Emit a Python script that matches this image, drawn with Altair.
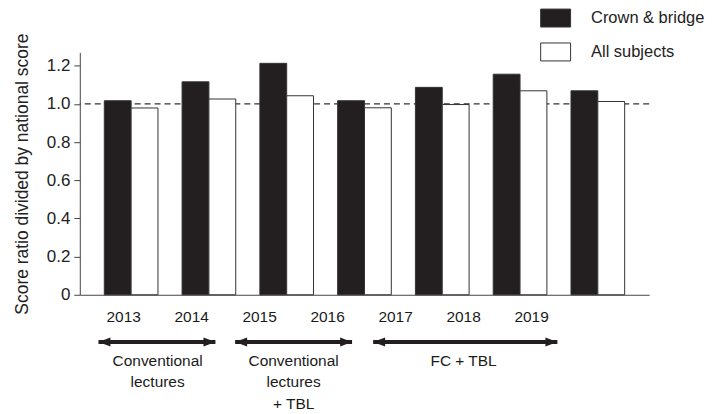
import altair as alt
import pandas as pd

FONT = "Liberation Sans"

# ---- data ----
years = ["2013", "2014", "2015", "2016", "2017", "2018", "2019"]
crown_bridge = [1.017, 1.116, 1.213, 1.017, 1.087, 1.156, 1.069]
all_subjects = [0.979, 1.026, 1.043, 0.980, 0.997, 1.069, 1.013]
series_names = ["Crown & bridge", "All subjects"]
series_colors = ["#231f20", "#ffffff"]
reference_level = [1.0]
y_ticks = [0, 0.2, 0.4, 0.6, 0.8, 1.0, 1.2]

# teaching-period annotations (in year units)
period_labels = ["Conventional\nlectures", "Conventional\nlectures\n+ TBL", "FC + TBL"]
period_start = [2012.63, 2014.64, 2016.67]
period_end = [2014.35, 2016.36, 2019.38]
period_center = [2013.5, 2015.5, 2018.0]

# ---- tables ----
rows = []
for i, y in enumerate(years):
    rows.append({"year": y, "series": series_names[0], "value": crown_bridge[i]})
    rows.append({"year": y, "series": series_names[1], "value": all_subjects[i]})
bar_df = pd.DataFrame(rows)
ref_df = pd.DataFrame({"level": reference_level})
year_df = pd.DataFrame({"yr": [int(y) for y in years], "label": years})
period_df = pd.DataFrame({"label": period_labels, "start": period_start,
                          "end": period_end, "center": period_center})

W, H = 571, 243
yscale = alt.Scale(domain=[0, 1.27], nice=False, zero=True)
yaxis = alt.Axis(values=y_ticks,
                 labelExpr="datum.value == 0 ? '0' : format(datum.value, '.1f')",
                 title="Score ratio divided by national score",
                 titleFontSize=17.5, titleFontWeight="normal", titleColor="#222",
                 labelFontSize=17, labelColor="#222", labelPadding=4,
                 tickSize=6, tickColor="#444", domainColor="#444",
                 titlePadding=15, grid=False)
ann_scale = alt.Scale(domain=[2012.355, 2020.73], nice=False, zero=False)

ref = alt.Chart(ref_df).mark_rule(strokeDash=[6, 4], color="#333", strokeWidth=1.2).encode(
    y=alt.Y("level:Q", scale=yscale, axis=yaxis)
)

bars = alt.Chart(bar_df).mark_bar(stroke="#333", strokeWidth=1).encode(
    x=alt.X("year:N", sort=years,
            scale=alt.Scale(paddingInner=0.31, paddingOuter=0.315),
            axis=alt.Axis(labels=False, ticks=False, title=None,
                          domainColor="#444", domainWidth=1.2)),
    xOffset=alt.XOffset("series:N", sort=series_names,
                        scale=alt.Scale(paddingInner=0, paddingOuter=0)),
    y=alt.Y("value:Q", scale=yscale, axis=yaxis),
    fill=alt.Fill("series:N",
                  scale=alt.Scale(domain=series_names, range=series_colors),
                  legend=alt.Legend(title=None, orient="none", legendX=467.7, legendY=-44,
                                    symbolType="M-1.667,-1H1.667V1H-1.667Z", symbolSize=324,
                                    symbolStrokeColor="#333", symbolStrokeWidth=1,
                                    symbolOpacity=1,
                                    labelFont=FONT, labelFontSize=16.5, labelColor="#222",
                                    labelOffset=26, rowPadding=11, padding=0)),
)

year_text = alt.Chart(year_df).mark_text(font=FONT, fontSize=15.5, color="#1a1a1a",
                                         baseline="middle").encode(
    x=alt.X("yr:Q", scale=ann_scale, axis=None),
    y=alt.value(265.3),
    text="label:N",
)

arrow_line = alt.Chart(period_df).mark_rule(color="#231f20", strokeWidth=4).encode(
    x=alt.X("start:Q", scale=ann_scale, axis=None),
    x2="end:Q",
    y=alt.value(290.3),
)
arrow_left = alt.Chart(period_df).mark_point(shape="M0,0L2,-0.75L2,0.75Z", size=144,
                                             filled=True, color="#231f20", opacity=1).encode(
    x=alt.X("start:Q", scale=ann_scale, axis=None),
    y=alt.value(290.3),
)
arrow_right = alt.Chart(period_df).mark_point(shape="M0,0L-2,-0.75L-2,0.75Z", size=144,
                                              filled=True, color="#231f20", opacity=1).encode(
    x=alt.X("end:Q", scale=ann_scale, axis=None),
    y=alt.value(290.3),
)
period_text = alt.Chart(period_df).mark_text(font=FONT, fontSize=15.5, color="#1a1a1a",
                                             baseline="top", lineBreak="\n",
                                             lineHeight=22).encode(
    x=alt.X("center:Q", scale=ann_scale, axis=None),
    y=alt.value(302),
    text="label:N",
)

chart = alt.layer(ref, bars, year_text, arrow_line, arrow_left, arrow_right,
                  period_text).resolve_scale(x="independent").properties(
    width=W, height=H, padding={"left": 5, "top": 0, "right": 0, "bottom": 0}
).configure_view(stroke=None).configure_axis(labelFont=FONT, titleFont=FONT)

chart.save("out.html", embed_options={"renderer": "svg", "actions": False})
